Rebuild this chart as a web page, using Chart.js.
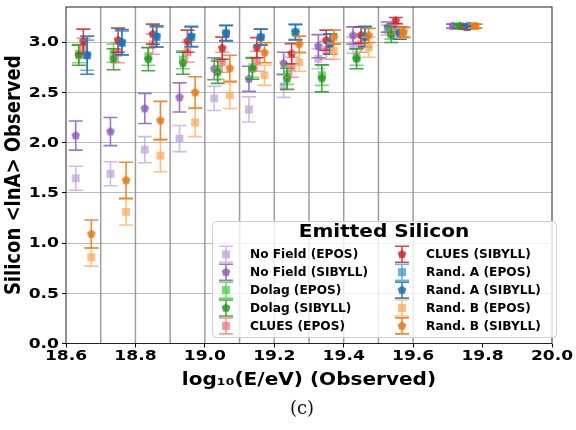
<!DOCTYPE html>
<html>
<head>
<meta charset="utf-8">
<script src="https://cdn.jsdelivr.net/npm/chart.js@4/dist/chart.umd.min.js"></script>
<style>
  html, body { margin: 0; padding: 0; background: #fff; }
  #wrap { position: relative; width: 576px; height: 430px; }
  #cap { position: absolute; left: 0; width: 604px; top: 397px; text-align: center;
         font-family: 'DejaVu Serif', serif; font-size: 18px; color: #111; }
</style>
</head>
<body>
<div id="wrap">
  <canvas id="myChart" width="576" height="430"></canvas>
  <div id="cap">(c)</div>
</div>
<script>
// positions en x (log10 E) de chaque modèle, décalés dans chaque bin
const xNoField = [18.628, 18.728, 18.827, 18.927, 19.027, 19.127, 19.227, 19.327, 19.427, 19.527, 19.715];
const xDolag   = [18.637, 18.737, 18.837, 18.937, 19.037, 19.137, 19.237, 19.337, 19.437, 19.537, 19.735];
const xClues   = [18.650, 18.750, 18.850, 18.950, 19.050, 19.150, 19.250, 19.350, 19.450, 19.550, 19.755];
const xRandA   = [18.661, 18.761, 18.861, 18.961, 19.061, 19.161, 19.261, 19.361, 19.461, 19.561, 19.762];
const xRandB   = [18.673, 18.773, 18.872, 18.972, 19.072, 19.172, 19.272, 19.372, 19.472, 19.572, 19.779];

// <lnA> observé et erreurs
const noFieldEposY   = [1.645, 1.69, 1.93, 2.04, 2.44, 2.33, 2.56, 2.835, 2.97, 3.12, 3.16];
const noFieldEposErr = [0.12, 0.12, 0.13, 0.13, 0.12, 0.125, 0.11, 0.10, 0.08, 0.05, 0.02];
const noFieldSibY    = [2.07, 2.11, 2.34, 2.45, 2.735, 2.635, 2.79, 2.96, 3.067, 3.15, 3.16];
const noFieldSibErr  = [0.145, 0.14, 0.15, 0.145, 0.11, 0.125, 0.11, 0.115, 0.085, 0.05, 0.02];
const dolagEposY     = [2.885, 2.89, 2.86, 2.825, 2.73, 2.75, 2.68, 2.67, 2.85, 3.08, 3.16];
const dolagEposErr   = [0.09, 0.09, 0.09, 0.09, 0.10, 0.10, 0.10, 0.10, 0.08, 0.05, 0.02];
const dolagSibY      = [2.87, 2.83, 2.83, 2.79, 2.70, 2.735, 2.635, 2.64, 2.835, 3.077, 3.16];
const dolagSibErr    = [0.10, 0.105, 0.115, 0.11, 0.11, 0.105, 0.105, 0.135, 0.10, 0.08, 0.02];
const cluesEposY     = [2.94, 2.895, 2.98, 2.90, 2.80, 2.81, 2.75, 2.92, 2.98, 3.13, 3.15];
const cluesEposErr   = [0.10, 0.10, 0.10, 0.10, 0.10, 0.10, 0.10, 0.09, 0.08, 0.05, 0.02];
const cluesSibY      = [3.01, 3.02, 3.08, 3.01, 2.94, 2.945, 2.885, 3.02, 3.07, 3.215, 3.15];
const cluesSibErr    = [0.12, 0.12, 0.10, 0.11, 0.11, 0.10, 0.10, 0.10, 0.08, 0.03, 0.02];
const randAEposY     = [2.87, 2.99, 3.05, 3.05, 3.09, 3.05, 3.10, 2.98, 3.05, 3.09, 3.16];
const randAEposErr   = [0.15, 0.12, 0.10, 0.10, 0.08, 0.08, 0.08, 0.10, 0.10, 0.06, 0.02];
const randASibY      = [2.87, 3.00, 3.057, 3.057, 3.09, 3.05, 3.10, 2.98, 3.057, 3.09, 3.16];
const randASibErr    = [0.19, 0.125, 0.105, 0.10, 0.075, 0.08, 0.075, 0.10, 0.10, 0.06, 0.02];
const randBEposY     = [0.86, 1.31, 1.87, 2.20, 2.47, 2.67, 2.80, 2.91, 2.95, 3.09, 3.16];
const randBEposErr   = [0.09, 0.13, 0.16, 0.14, 0.13, 0.10, 0.09, 0.08, 0.10, 0.05, 0.02];
const randBSibY      = [1.09, 1.625, 2.22, 2.50, 2.74, 2.895, 2.98, 3.05, 3.067, 3.10, 3.16];
const randBSibErr    = [0.14, 0.18, 0.19, 0.155, 0.13, 0.10, 0.08, 0.07, 0.07, 0.05, 0.02];

const yTicks = [0.0, 0.5, 1.0, 1.5, 2.0, 2.5, 3.0];
const xTickLabels = [18.6, 18.8, 19.0, 19.2, 19.4, 19.6, 19.8, 20.0];
const binEdges = [18.7, 18.8, 18.9, 19.0, 19.1, 19.2, 19.3, 19.4, 19.5, 19.6];

// --------------------FONCTIONS------------------------------//

const STRETCH = 1.18; // le texte de la figure d'origine est étiré en largeur

// marqueur pentagone (pas dispo dans Chart.js)
function makePentagon(fill, r) {
    const s = Math.ceil(r * 2 + 2);
    const c = document.createElement('canvas');
    c.width = s; c.height = s;
    const g = c.getContext('2d');
    g.fillStyle = fill;
    g.beginPath();
    for (let k = 0; k < 5; k++) {
        const a = -Math.PI / 2 + k * 2 * Math.PI / 5;
        const px = s / 2 + r * Math.cos(a), py = s / 2 + r * Math.sin(a);
        if (k === 0) g.moveTo(px, py); else g.lineTo(px, py);
    }
    g.closePath();
    g.fill();
    return c;
}

// texte étiré horizontalement
function wideText(ctx, text, x, y, align, size, rot, stretch) {
    ctx.save();
    ctx.translate(x, y);
    ctx.scale(stretch || STRETCH, 1);
    if (rot) ctx.rotate(rot);
    ctx.font = 'bold ' + size + 'px "DejaVu Sans"';
    ctx.textAlign = align;
    ctx.textBaseline = 'middle';
    ctx.fillStyle = '#000';
    ctx.fillText(text, 0, 0);
    ctx.restore();
}

const series = [
    { label: 'No Field (EPOS)',   x: xNoField, y: noFieldEposY, err: noFieldEposErr, color: 'rgba(190,165,220,0.75)', marker: 'square' },
    { label: 'No Field (SIBYLL)', x: xNoField, y: noFieldSibY,  err: noFieldSibErr,  color: 'rgba(140,95,185,0.85)',  marker: 'pent' },
    { label: 'Dolag (EPOS)',      x: xDolag,   y: dolagEposY,   err: dolagEposErr,   color: 'rgba(60,205,60,0.7)',    marker: 'square' },
    { label: 'Dolag (SIBYLL)',    x: xDolag,   y: dolagSibY,    err: dolagSibErr,    color: 'rgba(40,150,40,0.85)',   marker: 'pent' },
    { label: 'CLUES (EPOS)',      x: xClues,   y: cluesEposY,   err: cluesEposErr,   color: 'rgba(235,105,110,0.65)', marker: 'square' },
    { label: 'CLUES (SIBYLL)',    x: xClues,   y: cluesSibY,    err: cluesSibErr,    color: 'rgba(200,40,45,0.85)',   marker: 'pent' },
    { label: 'Rand. A (EPOS)',    x: xRandA,   y: randAEposY,   err: randAEposErr,   color: 'rgba(60,150,220,0.75)',  marker: 'square' },
    { label: 'Rand. A (SIBYLL)',  x: xRandA,   y: randASibY,    err: randASibErr,    color: 'rgba(31,110,175,0.85)',  marker: 'pent' },
    { label: 'Rand. B (EPOS)',    x: xRandB,   y: randBEposY,   err: randBEposErr,   color: 'rgba(255,170,95,0.75)',  marker: 'square' },
    { label: 'Rand. B (SIBYLL)',  x: xRandB,   y: randBSibY,    err: randBSibErr,    color: 'rgba(230,120,20,0.85)',  marker: 'pent' }
];

const datasets = series.map((s, i) => {
    const pent = makePentagon(s.color, 4.6);
    return {
        label: s.label,
        data: s.x.map((xv, k) => ({ x: xv, y: s.y[k], err: s.err[k] })),
        errColor: s.color,
        marker: s.marker,
        pentImg: pent,
        pointStyle: s.marker === 'square' ? 'rect' : pent,
        pointRadius: 5.6,
        backgroundColor: s.color,
        borderWidth: 0,
        showLine: false,
        order: 20 - i
    };
});

// barres d'erreur dessinées avant chaque dataset
const errorBars = {
    id: 'errorBars',
    beforeDatasetDraw(chart, args) {
        const ds = chart.data.datasets[args.index];
        const ys = chart.scales.y;
        const ctx = chart.ctx;
        const cap = 7;
        ctx.save();
        ctx.strokeStyle = ds.errColor;
        ctx.lineWidth = 1.6;
        args.meta.data.forEach((pt, i) => {
            const d = ds.data[i];
            const top = ys.getPixelForValue(d.y + d.err);
            const bot = ys.getPixelForValue(d.y - d.err);
            ctx.beginPath();
            ctx.moveTo(pt.x, top); ctx.lineTo(pt.x, bot);
            ctx.moveTo(pt.x - cap, top); ctx.lineTo(pt.x + cap, top);
            ctx.moveTo(pt.x - cap, bot); ctx.lineTo(pt.x + cap, bot);
            ctx.stroke();
        });
        ctx.restore();
    }
};

// lignes des bins, cadre, textes des axes
const axesDeco = {
    id: 'axesDeco',
    beforeDatasetsDraw(chart) {
        const { ctx, chartArea: a, scales: { x } } = chart;
        ctx.save();
        ctx.strokeStyle = 'rgba(140,140,140,0.85)';
        ctx.lineWidth = 1.5;
        binEdges.forEach(e => {
            const px = x.getPixelForValue(e);
            ctx.beginPath(); ctx.moveTo(px, a.top); ctx.lineTo(px, a.bottom); ctx.stroke();
        });
        ctx.restore();
    },
    afterDraw(chart) {
        const { ctx, chartArea: a, scales: { x, y } } = chart;
        ctx.save();
        ctx.strokeStyle = '#222';
        ctx.lineWidth = 1;
        ctx.strokeRect(a.left, a.top, a.right - a.left, a.bottom - a.top);
        ctx.restore();

        yTicks.forEach(v => wideText(ctx, v.toFixed(1), a.left - 7, y.getPixelForValue(v) + 0.5, 'right', 14.5));
        xTickLabels.forEach(v => wideText(ctx, v.toFixed(1), x.getPixelForValue(v), a.bottom + 13, 'center', 14.5));
        wideText(ctx, 'log\u2081\u2080(E/eV) (Observed)', (a.left + a.right) / 2, 381, 'center', 17);
        wideText(ctx, 'Silicon <lnA> Observed', 14, (a.top + a.bottom) / 2, 'center', 18, -Math.PI / 2);
    }
};

// légende maison avec glyphes barre d'erreur
const errLegend = {
    id: 'errLegend',
    afterDraw(chart) {
        const ctx = chart.ctx;
        const box = { l: 212, t: 221, r: 556, b: 337 };
        ctx.save();
        ctx.fillStyle = 'rgba(255,255,255,0.8)';
        ctx.strokeStyle = '#d0d0d0';
        ctx.lineWidth = 1;
        ctx.beginPath();
        ctx.roundRect(box.l + 0.5, box.t + 0.5, box.r - box.l, box.b - box.t, 4);
        ctx.fill(); ctx.stroke();
        // largeur des libellés calée sur la figure (~117 px pour les plus longs)
        ctx.font = 'bold 13px "DejaVu Sans"';
        const w1 = ctx.measureText('No Field (SIBYLL)').width;
        const w2 = ctx.measureText('Rand. A (SIBYLL)').width;
        ctx.restore();
        const labelStretch = (117 / w1 + 116 / w2) / 2;

        wideText(ctx, 'Emitted Silicon', (box.l + box.r) / 2, 233, 'center', 17);

        chart.data.datasets.forEach((ds, i) => {
            const col = Math.floor(i / 5), row = i % 5;
            const mx = col === 0 ? 226 : 402;
            const tx = col === 0 ? 250 : 426;
            const my = 254.3 + row * 17.9;
            ctx.save();
            ctx.strokeStyle = ds.errColor;
            ctx.lineWidth = 1.6;
            ctx.beginPath();
            ctx.moveTo(mx, my - 8); ctx.lineTo(mx, my + 8);
            ctx.moveTo(mx - 7, my - 8); ctx.lineTo(mx + 7, my - 8);
            ctx.moveTo(mx - 7, my + 8); ctx.lineTo(mx + 7, my + 8);
            ctx.stroke();
            if (ds.marker === 'square') {
                ctx.fillStyle = ds.errColor;
                ctx.fillRect(mx - 4, my - 4, 8, 8);
            } else {
                ctx.drawImage(ds.pentImg, mx - ds.pentImg.width / 2, my - ds.pentImg.height / 2);
            }
            ctx.restore();
            wideText(ctx, ds.label, tx, my + 0.5, 'left', 13, 0, labelStretch);
        });
    }
};

const ctx = document.getElementById('myChart').getContext('2d');
const myChart = new Chart(ctx, {
    type: 'scatter',
    data: { datasets: datasets },
    plugins: [errorBars, axesDeco, errLegend],
    options: {
        responsive: false,
        animation: false,
        layout: { padding: { left: 0, right: 24, top: 7, bottom: 35 } },
        plugins: { legend: { display: false }, tooltip: { enabled: false } },
        scales: {
            x: {
                type: 'linear',
                min: 18.6, max: 20.0,
                afterFit: (s) => { s.height = 51.5; s.paddingLeft = 0; s.paddingRight = 0; },
                afterBuildTicks: (s) => { s.ticks = xTickLabels.map(v => ({ value: v })); },
                ticks: { display: false },
                grid: { display: true, drawOnChartArea: false, tickLength: 4, tickColor: '#000' },
                border: { display: false }
            },
            y: {
                min: 0, max: 3.35,
                afterFit: (s) => { s.width = 66; s.paddingTop = 0; s.paddingBottom = 0; },
                afterBuildTicks: (s) => { s.ticks = yTicks.map(v => ({ value: v })); },
                ticks: { display: false },
                grid: { color: 'rgba(170,170,170,0.8)', lineWidth: 1, tickLength: 4, tickColor: '#000' },
                border: { display: false }
            }
        }
    }
});
</script>
</body>
</html>
